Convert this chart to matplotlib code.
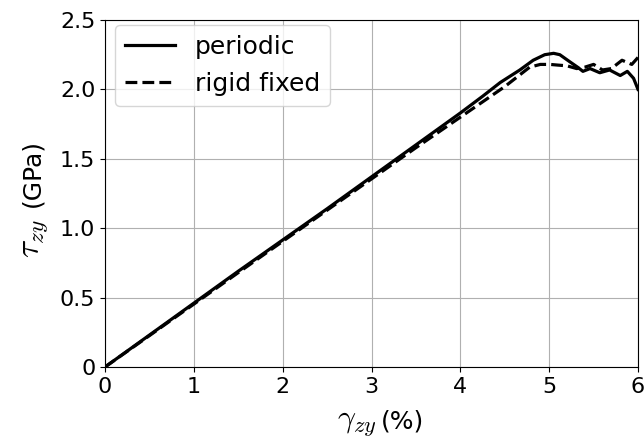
import matplotlib
matplotlib.use("Agg")
from matplotlib import pyplot as plt

plt.rcParams['mathtext.fontset'] = 'cm'
plt.rcParams['font.family'] = 'DejaVu Sans'

strain_p = [0, 0.25, 0.5, 0.75, 1.0, 1.5, 2.0, 2.5, 3.0, 3.5, 4.0, 4.25, 4.45, 4.67, 4.82,
            4.95, 5.05, 5.12, 5.23, 5.32, 5.38, 5.46, 5.57, 5.68, 5.8, 5.88, 5.95, 6.0]
stress_p = [0, 0.115, 0.23, 0.345, 0.46, 0.69, 0.915, 1.14, 1.37, 1.6, 1.83, 1.95, 2.05, 2.14, 2.21,
            2.25, 2.26, 2.25, 2.2, 2.16, 2.13, 2.15, 2.12, 2.14, 2.1, 2.13, 2.08, 2.0]

strain_r = [0, 0.25, 0.5, 0.75, 1.0, 1.5, 2.0, 2.5, 3.0, 3.5, 4.0, 4.25, 4.5, 4.78,
            4.9, 5.01, 5.1, 5.2, 5.31, 5.4, 5.5, 5.6, 5.7, 5.82, 5.93, 6.0]
stress_r = [0, 0.113, 0.226, 0.34, 0.453, 0.68, 0.905, 1.13, 1.355, 1.58, 1.8, 1.91, 2.02, 2.16,
            2.18, 2.18, 2.175, 2.17, 2.15, 2.16, 2.18, 2.14, 2.15, 2.21, 2.18, 2.23]

W, H = 644, 441
fig = plt.figure(figsize=(6.44, 4.41), dpi=100)
ax = fig.add_axes([105 / W, 1 - 367 / H, 533 / W, 347 / H])
ax.plot(strain_p, stress_p, 'k-', lw=2.3, label='periodic')
ax.plot(strain_r, stress_r, 'k--', lw=2.3, label='rigid fixed')
ax.set_xlim(0, 6)
ax.set_ylim(0, 2.5)
ax.set_xticks(range(7))
ax.set_yticks([0, 0.5, 1.0, 1.5, 2.0, 2.5])
ax.set_yticklabels(['0', '0.5', '1.0', '1.5', '2.0', '2.5'])
ax.tick_params(labelsize=16)
ax.grid(True)
ax.legend(loc='upper left', fontsize=18, bbox_to_anchor=(115 / W, 1 - 25 / H),
          bbox_transform=fig.transFigure, borderaxespad=0)

# axis labels: big math symbol + normal text
fig.text(377 / W, 1 - 428 / H, r'$\gamma_{zy}$', fontsize=23, ha='right', va='baseline')
fig.text(381 / W, 1 - 428 / H, '(%)', fontsize=18, ha='left', va='baseline')
fig.text(38 / W, 1 - 219 / H, r'$\tau_{zy}$', fontsize=24, ha='right', va='baseline',
         rotation=90, rotation_mode='anchor')
fig.text(39 / W, 1 - 207 / H, '(GPa)', fontsize=18, ha='left', va='baseline',
         rotation=90, rotation_mode='anchor')
fig.savefig('out.png')
